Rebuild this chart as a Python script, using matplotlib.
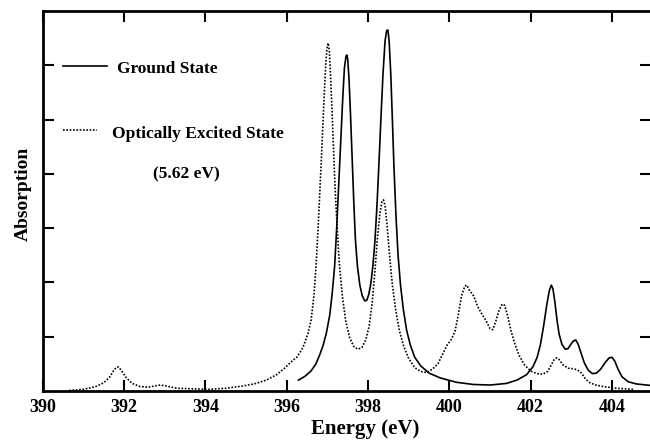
import matplotlib
matplotlib.use("Agg")
import matplotlib.pyplot as plt

plt.rcParams['font.family'] = ['Liberation Serif', 'DejaVu Serif']
plt.rcParams['font.weight'] = 'bold'

# Ground state spectrum
ground_x = [396.29, 396.45, 396.6, 396.72, 396.82, 396.9, 396.98, 397.06, 397.12,
            397.18, 397.23, 397.28, 397.33, 397.38, 397.42, 397.46, 397.48, 397.5,
            397.53, 397.57, 397.61, 397.65, 397.69, 397.74, 397.8, 397.86, 397.92,
            397.97, 398.02, 398.07, 398.12, 398.17, 398.22, 398.27, 398.32, 398.37,
            398.42, 398.46, 398.49, 398.52, 398.56, 398.6, 398.64, 398.69, 398.74,
            398.8, 398.87, 398.95, 399.04, 399.15, 399.3, 399.5, 399.78, 400.18,
            400.59, 401.01, 401.41, 401.66, 401.9, 402.06, 402.16, 402.24, 402.32,
            402.4, 402.46, 402.51, 402.55, 402.6, 402.65, 402.7, 402.77, 402.85,
            402.92, 402.98, 403.05, 403.11, 403.17, 403.24, 403.32, 403.42, 403.52,
            403.62, 403.72, 403.83, 403.93, 404.0, 404.07, 404.15, 404.25, 404.4,
            404.6, 404.85, 405.0]
ground_y = [0.2, 0.27, 0.37, 0.5, 0.68, 0.85, 1.08, 1.4, 1.8,
            2.3, 3.0, 3.8, 4.6, 5.4, 5.95, 6.17, 6.19, 6.12,
            5.8, 5.1, 4.3, 3.5, 2.8, 2.3, 1.95, 1.75, 1.66,
            1.67, 1.78, 1.98, 2.3, 2.75, 3.4, 4.2, 5.05, 5.85,
            6.45, 6.64, 6.65, 6.45, 5.85, 5.0, 4.1, 3.2, 2.5,
            1.95, 1.5, 1.12, 0.85, 0.62, 0.46, 0.33, 0.24, 0.16,
            0.12, 0.11, 0.14, 0.2, 0.3, 0.45, 0.62, 0.85, 1.2,
            1.6, 1.85, 1.95, 1.88, 1.62, 1.3, 1.05, 0.86, 0.77,
            0.78, 0.85, 0.92, 0.94, 0.86, 0.7, 0.52, 0.38, 0.32,
            0.33, 0.4, 0.52, 0.61, 0.62, 0.55, 0.4, 0.26, 0.17,
            0.13, 0.11, 0.1]

# Optically excited state (5.62 eV)
excited_x = [390.65, 391.0, 391.3, 391.5, 391.65, 391.75, 391.82, 391.87, 391.95,
             392.05, 392.2, 392.4, 392.6, 392.8, 392.9, 393.05, 393.3, 393.7,
             394.1, 394.5, 394.9, 395.2, 395.5, 395.75, 395.95, 396.1, 396.26,
             396.4, 396.52, 396.6, 396.67, 396.73, 396.78, 396.83, 396.88, 396.92,
             396.96, 396.99, 397.02, 397.05, 397.08, 397.12, 397.16, 397.2, 397.25,
             397.3, 397.37, 397.45, 397.55, 397.65, 397.75, 397.85, 397.95, 398.03,
             398.1, 398.17, 398.23, 398.29, 398.34, 398.38, 398.42, 398.47, 398.53,
             398.6, 398.68, 398.77, 398.88, 399.0, 399.15, 399.3, 399.44, 399.58,
             399.72, 399.85, 399.95, 400.05, 400.14, 400.22, 400.3, 400.38, 400.43,
             400.5, 400.6, 400.7, 400.8, 400.9, 401.0, 401.07, 401.15, 401.23,
             401.3, 401.36, 401.43, 401.52, 401.62, 401.72, 401.85, 402.0, 402.15,
             402.3, 402.42, 402.5, 402.58, 402.64, 402.7, 402.8, 402.92, 403.05,
             403.15, 403.25, 403.35, 403.46, 403.6, 403.8, 404.12, 404.52]
excited_y = [0.01, 0.03, 0.08, 0.15, 0.26, 0.38, 0.44, 0.44, 0.36,
             0.25, 0.14, 0.08, 0.07, 0.1, 0.11, 0.09, 0.05, 0.04,
             0.03, 0.05, 0.09, 0.13, 0.2, 0.3, 0.42, 0.53, 0.63,
             0.8, 1.05, 1.3, 1.75, 2.4, 3.1, 3.9, 4.7, 5.4,
             6.0, 6.3, 6.41, 6.25, 5.8, 5.1, 4.3, 3.6, 2.9,
             2.3, 1.75, 1.3, 0.98, 0.82, 0.77, 0.8, 0.95, 1.2,
             1.6, 2.2, 2.8, 3.25, 3.48, 3.52, 3.42, 3.05, 2.5,
             1.95, 1.5, 1.12, 0.82, 0.6, 0.43, 0.36, 0.34, 0.4,
             0.5, 0.7, 0.85, 0.95, 1.1, 1.4, 1.75, 1.93, 1.95,
             1.85, 1.75, 1.55, 1.42, 1.3, 1.15, 1.13, 1.3, 1.5,
             1.6, 1.58, 1.4, 1.1, 0.85, 0.65, 0.48, 0.37, 0.32,
             0.31, 0.36, 0.47, 0.58, 0.61, 0.58, 0.48, 0.42, 0.41,
             0.39, 0.33, 0.22, 0.15, 0.11, 0.08, 0.05, 0.03]

x_ticks = [390, 392, 394, 396, 398, 400, 402, 404]
y_ticks = [1, 2, 3, 4, 5, 6]

fig = plt.figure(figsize=(6.5, 4.42), dpi=100)
ax = fig.add_axes([0.0657, 0.1154, 0.9358, 0.8597])

ax.plot(ground_x, ground_y, color='black', lw=1.2)
ax.plot(excited_x, excited_y, color='black', lw=1.2, linestyle=(0, (1, 1)))

ax.set_xlim(390, 404.96)
ax.set_ylim(0, 7)
ax.set_xticks(x_ticks)
ax.set_yticks(y_ticks)
ax.set_yticklabels([])
ax.tick_params(axis='both', direction='in', length=8, width=1.5,
               top=True, right=True, labelsize=13, pad=6)
for s in ax.spines.values():
    s.set_linewidth(2)

# legend drawn by hand
ax.plot([0.0334, 0.1057], [0.856, 0.856], color='black', lw=1.2,
        transform=ax.transAxes)
ax.text(0.122, 0.837, 'Ground State', transform=ax.transAxes,
        fontsize=12.5, va='baseline', ha='left')
ax.plot([0.0334, 0.0893], [0.687, 0.687], color='black', lw=1.2,
        linestyle=(0, (1, 1)), transform=ax.transAxes)
ax.text(0.114, 0.665, 'Optically Excited State', transform=ax.transAxes,
        fontsize=12.5, va='baseline', ha='left')
ax.text(0.237, 0.56, '(5.62 eV)', transform=ax.transAxes,
        fontsize=12.5, va='baseline', ha='center')

fig.text(365 / 650, 1 - 434 / 442, 'Energy (eV)', fontsize=15,
         ha='center', va='baseline')
fig.text(23 / 650, 1 - 194 / 442, 'Absorption', fontsize=14,
         ha='center', va='center', rotation=90)

fig.savefig('out.png', dpi=100)
